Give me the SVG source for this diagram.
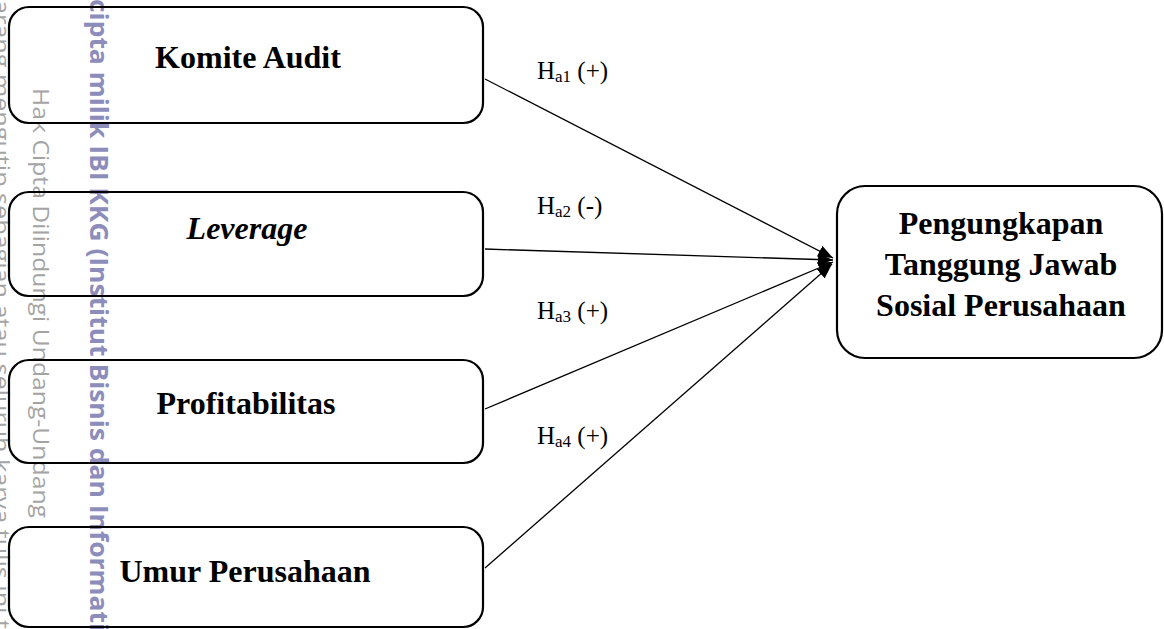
<svg xmlns="http://www.w3.org/2000/svg" width="1164" height="629" viewBox="0 0 1164 629">
<style>
.box{fill:none;stroke:#000;stroke-width:2.2}
.lbl{font-family:"Liberation Serif","Times New Roman",serif;font-weight:bold;font-size:32px;fill:#000;text-anchor:middle}
.hyp{font-family:"Liberation Serif","Times New Roman",serif;font-size:25px;fill:#000}
.sub{font-size:17px}
.edge{stroke:#000;stroke-width:1.3;fill:none;marker-end:url(#arr)}
.wm{font-family:"Open Sans","DejaVu Sans",sans-serif;font-size:21px;fill:#a4a4a4}
.wmb{font-family:"Open Sans","DejaVu Sans",sans-serif;font-size:25px;font-weight:bold;fill:#8d8dbb}
</style>
<defs>
<marker id="arr" markerUnits="userSpaceOnUse" markerWidth="16" markerHeight="12" refX="15" refY="6" orient="auto">
<path d="M0,0 L15,6 L0,12 Z" fill="#000"/>
</marker>
</defs>
<rect x="0" y="0" width="1164" height="629" fill="#fff"/>
<g id="watermark">
<text class="wm" transform="translate(-6,0) rotate(90)" textLength="629" lengthAdjust="spacingAndGlyphs">arang mengutip sebagian atau seluruh karya tulis ini t</text>
<text class="wm" transform="translate(33,88) rotate(90)" textLength="430" lengthAdjust="spacingAndGlyphs">Hak Cipta Dilindungi Undang-Undang</text>
<text class="wmb" transform="translate(90,-1) rotate(90)" textLength="632" lengthAdjust="spacingAndGlyphs">cipta milik IBI KKG (Institut Bisnis dan Informati</text>
</g>
<g id="connectors">
<line class="edge" x1="485" y1="79" x2="833" y2="258"/>
<line class="edge" x1="485" y1="249" x2="833" y2="260"/>
<line class="edge" x1="485" y1="409" x2="833" y2="262"/>
<line class="edge" x1="485" y1="568" x2="832" y2="264"/>
<text class="hyp" x="537" y="79">H<tspan class="sub" dy="3">a1</tspan><tspan dy="-3"> (+)</tspan></text>
<text class="hyp" x="537" y="214">H<tspan class="sub" dy="3">a2</tspan><tspan dy="-3"> (-)</tspan></text>
<text class="hyp" x="537" y="319">H<tspan class="sub" dy="3">a3</tspan><tspan dy="-3"> (+)</tspan></text>
<text class="hyp" x="537" y="444">H<tspan class="sub" dy="3">a4</tspan><tspan dy="-3"> (+)</tspan></text>
</g>
<g id="komite-audit">
<rect class="box" x="9" y="7" width="474" height="116" rx="20"/>
<text class="lbl" x="248" y="68">Komite Audit</text>
</g>
<g id="leverage">
<rect class="box" x="9" y="192" width="474" height="104" rx="20"/>
<text class="lbl" x="247" y="239" font-style="italic">Leverage</text>
</g>
<g id="profitabilitas">
<rect class="box" x="9" y="360" width="474" height="103" rx="20"/>
<text class="lbl" x="246" y="414">Profitabilitas</text>
</g>
<g id="umur-perusahaan">
<rect class="box" x="9" y="527" width="474" height="100" rx="20"/>
<text class="lbl" x="245" y="582">Umur Perusahaan</text>
</g>
<g id="pengungkapan">
<rect class="box" x="837" y="186" width="325" height="172" rx="28"/>
<text class="lbl" x="1001" y="234">Pengungkapan</text>
<text class="lbl" x="1001" y="275">Tanggung Jawab</text>
<text class="lbl" x="1001" y="316">Sosial Perusahaan</text>
</g>
</svg>
